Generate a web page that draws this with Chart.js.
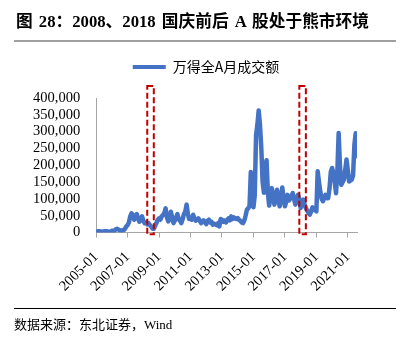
<!DOCTYPE html>
<html><head><meta charset="utf-8">
<script src="https://cdn.jsdelivr.net/npm/chart.js@4/dist/chart.umd.min.js"></script>
<style>
html,body{margin:0;padding:0;background:#fff;width:402px;height:338px;overflow:hidden;}
#wrap{position:absolute;left:0;top:0;width:402px;height:338px;}
#title{position:absolute;left:16px;top:8px;font:bold 16.7px "Liberation Serif","Noto Sans CJK SC";color:#000;white-space:nowrap;word-spacing:2px;}
#tline{position:absolute;left:14px;top:40px;width:382px;height:2px;background:#a0a0a0;}
#fline{position:absolute;left:14px;top:308px;width:382px;height:1px;background:#000;}
#src{position:absolute;left:14px;top:314px;font:13px "Liberation Serif","Noto Sans CJK SC";color:#000;white-space:nowrap;}
</style></head><body>
<div id="wrap"><canvas id="c" width="402" height="338"></canvas></div>
<div id="title">图 28：2008、2018 国庆前后 A 股处于熊市环境</div>
<div id="tline"></div>
<div id="fline"></div>
<div id="src">数据来源：东北证券，Wind</div>
<script>
// Series name
const seriesName = '万得全A月成交额';
// Categories: months from 2005-01
const startYear = 2005;
// Monthly turnover values, 2005-01 .. 2021-08
const values = [
  3500, 2500, 4000, 3500, 2500, 3000, 2500, 4000, 4000, 2500, 2500, 3500,
  5000, 5500, 5000, 9500, 11000, 9000, 7000, 5000, 6500, 7000, 11000, 18000,
  22000, 30000, 48000, 57000, 53000, 38000, 45000, 55000, 42000, 32000, 38000, 48000,
  35000, 28000, 30000, 24000, 28000, 22000, 18000, 12000, 11000, 20000, 28000, 38000,
  42000, 38000, 48000, 52000, 58000, 72000, 45000, 33000, 40000, 62000, 45000, 28000,
  35000, 45000, 55000, 40000, 35000, 28000, 40000, 55000, 62000, 83000, 55000, 40000,
  40000, 38000, 53000, 42000, 35000, 38000, 42000, 36000, 28000, 32000, 36000, 30000,
  25000, 35000, 38000, 30000, 32000, 23000, 26000, 25000, 22000, 28000, 18000, 40000,
  38000, 32000, 35000, 30000, 38000, 42000, 36000, 48000, 40000, 45000, 42000, 40000,
  43000, 38000, 35000, 30000, 28000, 35000, 50000, 68000, 72000, 78000, 180000, 90000,
  75000, 110000, 290000, 320000, 363000, 320000, 250000, 150000, 118000, 200000, 215000, 120000,
  80000, 105000, 132000, 110000, 83000, 100000, 127000, 100000, 78000, 100000, 134000, 105000,
  78000, 92000, 112000, 95000, 100000, 108000, 117000, 100000, 83000, 95000, 112000, 100000,
  73000, 85000, 98000, 85000, 73000, 65000, 58000, 53000, 62000, 75000, 70000, 66000,
  63000, 182000, 150000, 122000, 100000, 93000, 105000, 112000, 102000, 102000, 130000, 180000,
  192000, 177000, 150000, 117000, 180000, 296000, 200000, 142000, 150000, 157000, 185000, 217000,
  185000, 152000, 155000, 157000, 170000, 260000, 295000, 227000
];
// Tick labels on the x axis
const tickLabels = ['2005-01','2007-01','2009-01','2011-01','2013-01','2015-01','2017-01','2019-01','2021-01'];
// Highlighted periods (start month, end month)
const boxStarts = ['2008-04', '2017-12'];
const boxEnds = ['2008-09', '2018-05'];

const months = values.map((_, i) => {
  const y = startYear + Math.floor(i / 12);
  const m = (i % 12) + 1;
  return y + '-' + (m < 10 ? '0' + m : '' + m);
});

const BOX_TOP = 436000, BOX_BOTTOM = -5000;
const boxPlugin = {
  id: 'boxes',
  afterDatasetsDraw(chart) {
    const {ctx, scales: {x, y}} = chart;
    ctx.save();
    ctx.strokeStyle = '#C00000';
    ctx.lineWidth = 2;
    ctx.setLineDash([6, 3]);
    boxStarts.forEach((s, i) => {
      const x1 = x.getPixelForValue(months.indexOf(s));
      const x2 = x.getPixelForValue(months.indexOf(boxEnds[i]));
      const y1 = y.getPixelForValue(BOX_TOP);
      const y2 = y.getPixelForValue(BOX_BOTTOM);
      ctx.strokeRect(x1, y1, x2 - x1, y2 - y1);
    });
    ctx.restore();
  }
};
const LEGEND_CENTER = 206;
const LEGEND_EXTRA = 14;
const legendShift = {
  id: 'legendShift',
  afterInit(chart) {
    const l = chart.legend;
    if (l) {
      const f = l.fit.bind(l);
      l.fit = function () { f(); this.height += LEGEND_EXTRA; };
    }
  },
  afterLayout(chart) {
    const l = chart.legend;
    const d = LEGEND_CENTER - (l.left + l.right) / 2;
    l.left += d; l.right += d;
  }
};

const tickFont = {family: '"Liberation Serif", "Times New Roman", serif', size: 14.5};
new Chart(document.getElementById('c'), {
  type: 'line',
  data: {
    datasets: [{
      label: seriesName,
      data: values.map((v, i) => ({x: i, y: v})),
      borderColor: '#4472C4',
      backgroundColor: '#4472C4',
      borderWidth: 4.5,
      pointRadius: 0,
      tension: 0,
      borderJoinStyle: 'round',
      borderCapStyle: 'round'
    }]
  },
  options: {
    responsive: false,
    devicePixelRatio: 1,
    animation: false,
    layout: {padding: {left: 17, right: 45, top: 50, bottom: 32}},
    plugins: {
      tooltip: {enabled: false},
      legend: {
        position: 'top',
        labels: {
          boxWidth: 33, boxHeight: 4, padding: 10,
          color: '#222',
          font: {family: '"Noto Sans CJK SC"', size: 14},
          generateLabels: (chart) => chart.data.datasets.map((d, i) => ({
            text: d.label, fillStyle: d.borderColor, strokeStyle: d.borderColor,
            lineWidth: 0, hidden: false, datasetIndex: i
          }))
        }
      }
    },
    scales: {
      x: {
        type: 'linear',
        min: 0,
        max: values.length - 1,
        afterBuildTicks: (s) => { s.ticks = tickLabels.map(l => ({value: months.indexOf(l)})); },
        ticks: {
          callback: (v) => months[v],
          autoSkip: false,
          minRotation: 45, maxRotation: 45,
          font: tickFont, color: '#000', padding: 11
        },
        grid: {drawOnChartArea: false, drawTicks: true, tickLength: 5, color: '#a6a6a6'},
        border: {color: '#a6a6a6', width: 1}
      },
      y: {
        min: 0, max: 400000,
        ticks: {
          stepSize: 50000,
          autoSkip: false,
          callback: (v) => v.toLocaleString('en-US'),
          font: tickFont, color: '#000', padding: 16
        },
        grid: {drawOnChartArea: false, drawTicks: false, color: '#a6a6a6'},
        border: {color: '#a6a6a6', width: 1}
      }
    }
  },
  plugins: [boxPlugin, legendShift]
});
</script>
</body></html>
